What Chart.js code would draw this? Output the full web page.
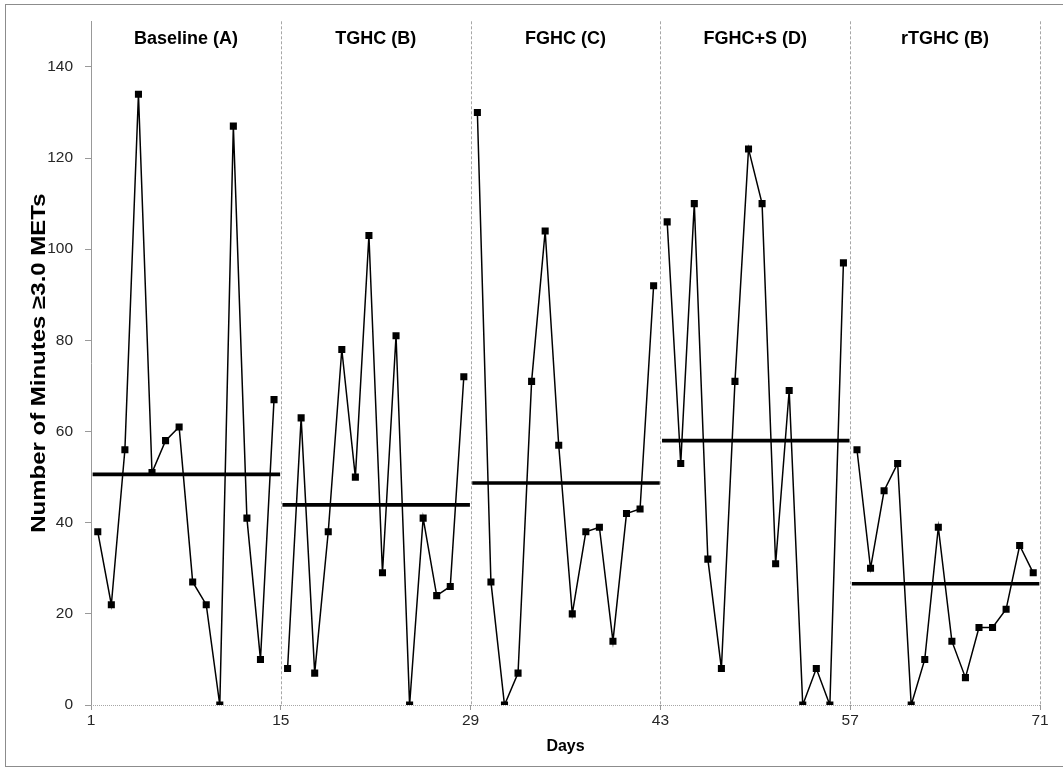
<!DOCTYPE html>
<html>
<head>
<meta charset="utf-8">
<title>Minutes of activity by phase</title>
<script src="https://cdn.jsdelivr.net/npm/chart.js@4.4.0/dist/chart.umd.min.js"></script>
<style>
  html, body { margin: 0; padding: 0; background: #fff; }
  #wrap { position: relative; width: 1063px; height: 779px; overflow: hidden; }
  #frame { position: absolute; left: 5px; top: 4px; width: 1100px; height: 763px; border: 1px solid #8c8c8c; box-sizing: border-box; }
  #chart { position: absolute; left: 0; top: 0; }
</style>
</head>
<body>
<div id="wrap">
  <div id="frame"></div>
  <canvas id="chart" width="1063" height="779"></canvas>
</div>
<script>
// phases and axis ticks
const phaseNames = ["Baseline (A)", "TGHC (B)", "FGHC (C)", "FGHC+S (D)", "rTGHC (B)"];
const phaseStartDays = [1, 15, 29, 43, 57];
const phaseEndDays = [15, 29, 43, 57, 71];
const xTickDays = [1, 15, 29, 43, 57, 71];
const yTickValues = [0, 20, 40, 60, 80, 100, 120, 140];
const yTitle = "Number of Minutes \u22653.0 METs";

// minutes >= 3.0 METs, one value per day
const baselineA = [38, 22, 56, 134, 51, 58, 61, 27, 22, 0, 127, 41, 10, 67];
const tghcB = [8, 63, 7, 38, 78, 50, 103, 29, 81, 0, 41, 24, 26, 72];
const fghcC = [130, 27, 0, 7, 71, 104, 57, 20, 38, 39, 14, 42, 43, 92];
const fghcSD = [106, 53, 110, 32, 8, 71, 122, 110, 31, 69, 0, 8, 0, 97];
const rtghcB = [56, 30, 47, 53, 0, 10, 39, 14, 6, 17, 17, 21, 35, 29];

// phase means (thick horizontal lines)
const phaseMeans = [50.6, 43.9, 48.7, 58.0, 26.6];

const phaseSeries = [baselineA, tghcB, fghcC, fghcSD, rtghcB];

Chart.defaults.font.family = "'Liberation Sans', Arial, sans-serif";
Chart.defaults.color = "#262626";

const datasets = [];

// daily series, one line per phase (not joined across phases)
phaseSeries.forEach((values, p) => {
    datasets.push({
        label: phaseNames[p],
        data: values.map((v, i) => ({ x: phaseStartDays[p] + i + 0.5, y: v })),
        borderColor: "#000",
        backgroundColor: "#000",
        borderWidth: 1.5,
        pointStyle: "rect",
        pointRadius: 5,
        pointBorderWidth: 0,
        tension: 0,
        order: 2
    });
});

// phase mean lines
phaseMeans.forEach((m, p) => {
    datasets.push({
        label: phaseNames[p] + " mean",
        data: [{ x: phaseStartDays[p] + 0.12, y: m }, { x: phaseEndDays[p] - 0.05, y: m }],
        borderColor: "#000",
        borderWidth: 3.6,
        pointRadius: 0,
        order: 1
    });
});

// dashed phase dividers, dotted baseline, phase titles and the y title
const phasePlugin = {
    id: "phasePlugin",
    beforeDatasetsDraw(chart) {
        const ctx = chart.ctx;
        const area = chart.chartArea;
        const xs = chart.scales.x;
        const ys = chart.scales.y;
        ctx.save();
        ctx.strokeStyle = "#a6a6a6";
        ctx.lineWidth = 1;
        ctx.setLineDash([3, 2]);
        phaseEndDays.forEach(d => {
            const px = Math.round(xs.getPixelForValue(d)) + 0.5;
            ctx.beginPath();
            ctx.moveTo(px, area.top);
            ctx.lineTo(px, area.bottom);
            ctx.stroke();
        });
        ctx.setLineDash([1, 1]);
        const y0 = Math.round(ys.getPixelForValue(0)) + 0.5;
        ctx.beginPath();
        ctx.moveTo(area.left, y0);
        ctx.lineTo(area.right, y0);
        ctx.stroke();
        ctx.restore();

        ctx.save();
        ctx.fillStyle = "#000";
        ctx.font = "bold 18px 'Liberation Sans', Arial, sans-serif";
        ctx.textAlign = "center";
        ctx.textBaseline = "middle";
        phaseNames.forEach((name, p) => {
            const cx = (xs.getPixelForValue(phaseStartDays[p]) + xs.getPixelForValue(phaseEndDays[p])) / 2;
            ctx.fillText(name, cx, area.top + 18);
        });
        ctx.restore();
    },
    afterDraw(chart) {
        // rotated axis title, slightly stretched along its length like the original
        const ctx = chart.ctx;
        const area = chart.chartArea;
        ctx.save();
        ctx.translate(39, (area.top + area.bottom) / 2);
        ctx.rotate(-Math.PI / 2);
        ctx.scale(1.2, 1);
        ctx.fillStyle = "#000";
        ctx.font = "bold 20px 'Liberation Sans', Arial, sans-serif";
        ctx.textAlign = "center";
        ctx.textBaseline = "middle";
        ctx.fillText(yTitle, 0, 0);
        ctx.restore();
    }
};

new Chart(document.getElementById("chart"), {
    type: "line",
    data: { datasets: datasets },
    options: {
        responsive: false,
        animation: false,
        layout: { padding: { top: 20, right: 23, left: 0, bottom: 0 } },
        plugins: {
            legend: { display: false },
            tooltip: { enabled: false }
        },
        scales: {
            x: {
                type: "linear",
                min: 1,
                max: 71,
                afterBuildTicks: scale => { scale.ticks = xTickDays.map(v => ({ value: v })); },
                afterFit: scale => { scale.height = 74; },
                grid: { drawOnChartArea: false, drawTicks: true, tickLength: 5, color: "#999" },
                border: { display: false },
                ticks: { font: { size: 15.5 }, padding: 1, maxRotation: 0 },
                title: {
                    display: true,
                    text: "Days",
                    color: "#000",
                    font: { size: 16, weight: "bold" },
                    padding: { top: 0, bottom: 23 }
                }
            },
            y: {
                min: 0,
                max: 150,
                afterBuildTicks: scale => { scale.ticks = yTickValues.map(v => ({ value: v })); },
                afterFit: scale => { scale.width = 91; },
                grid: { drawOnChartArea: false, drawTicks: true, tickLength: 6, color: "#999" },
                border: { display: true, color: "#999", width: 1 },
                ticks: { font: { size: 15.5 }, padding: 12 },
                title: { display: false }
            }
        }
    },
    plugins: [phasePlugin]
});
</script>
</body>
</html>
